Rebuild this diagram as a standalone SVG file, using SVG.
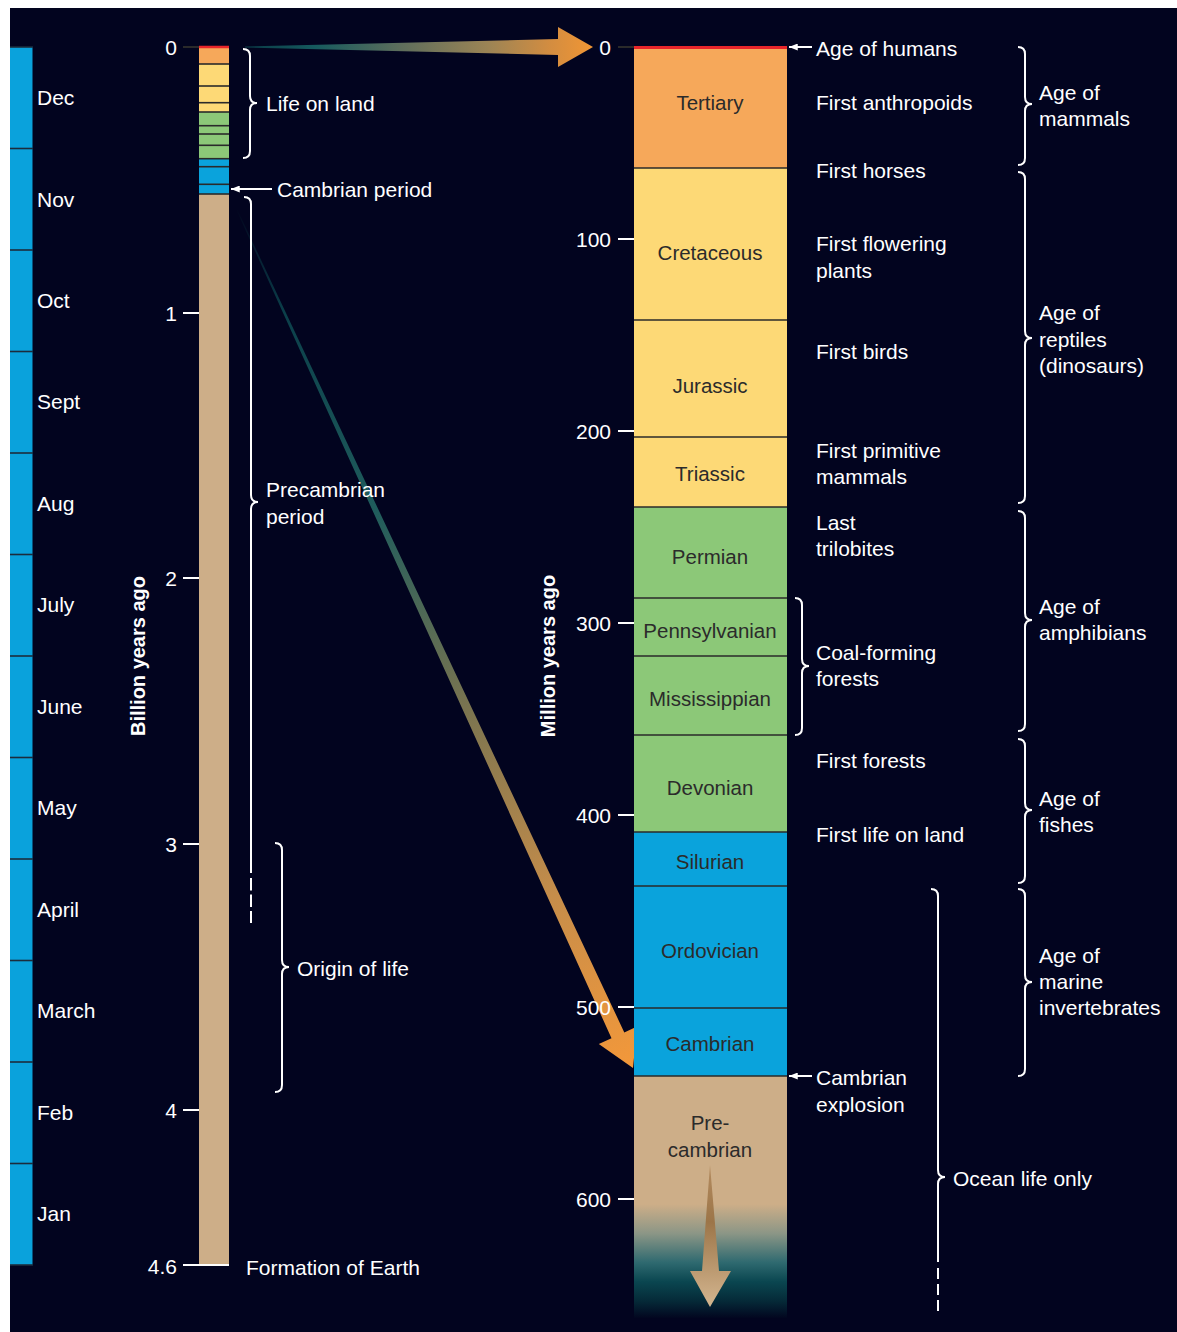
<svg xmlns="http://www.w3.org/2000/svg" width="1177" height="1332" viewBox="0 0 1177 1332">
  <style>
    text { font-family: "Liberation Sans", Arial, sans-serif; }
    .lbl { fill: #ffffff; font-size: 21px; }
    .num { fill: #ffffff; font-size: 21px; text-anchor: end; }
    .era { fill: #2b2b2b; font-size: 20.5px; text-anchor: middle; }
    .axis { fill: #ffffff; font-size: 20px; font-weight: bold; text-anchor: middle; }
    .tick { stroke: #ffffff; stroke-width: 2; }
    .tick0 { stroke: #2a2a2a; stroke-width: 2; }
    .brace { fill: none; stroke: #ffffff; stroke-width: 2; }
    .sep { stroke: #2a2a2a; stroke-width: 1.6; }
    .msep { stroke: #1c2c3c; stroke-width: 1.6; }
    .ptr { stroke: #ffffff; stroke-width: 2; marker-end: url(#head); }
  </style>
  <defs>
    <marker id="head" viewBox="0 0 10 8" refX="10" refY="4" markerWidth="9" markerHeight="7" markerUnits="userSpaceOnUse" orient="auto">
      <path d="M0,0 L10,4 L0,8 Z" fill="#ffffff"/>
    </marker>
    <linearGradient id="topArrow" gradientUnits="userSpaceOnUse" x1="245" y1="47" x2="593" y2="47">
      <stop offset="0" stop-color="#0a3a46"/>
      <stop offset="0.2" stop-color="#155a5e"/>
      <stop offset="0.45" stop-color="#5e6e5c"/>
      <stop offset="0.7" stop-color="#9c8455"/>
      <stop offset="0.88" stop-color="#d48d40"/>
      <stop offset="1" stop-color="#f19634"/>
    </linearGradient>
    <linearGradient id="diagArrow" gradientUnits="userSpaceOnUse" x1="237" y1="210" x2="633" y2="1068">
      <stop offset="0" stop-color="#02061f"/>
      <stop offset="0.12" stop-color="#0b3f4a"/>
      <stop offset="0.35" stop-color="#1f5c5c"/>
      <stop offset="0.58" stop-color="#7a7450"/>
      <stop offset="0.8" stop-color="#c68d4a"/>
      <stop offset="1" stop-color="#f3983a"/>
    </linearGradient>
    <linearGradient id="precamb" gradientUnits="userSpaceOnUse" x1="0" y1="1076" x2="0" y2="1318">
      <stop offset="0" stop-color="#cdae88"/>
      <stop offset="0.53" stop-color="#cdae88"/>
      <stop offset="0.65" stop-color="#8c9686"/>
      <stop offset="0.77" stop-color="#2f6a70"/>
      <stop offset="0.85" stop-color="#0a4650"/>
      <stop offset="0.93" stop-color="#052a38"/>
      <stop offset="1" stop-color="#02061f"/>
    </linearGradient>
    <linearGradient id="downArrow" gradientUnits="userSpaceOnUse" x1="0" y1="1165" x2="0" y2="1307">
      <stop offset="0" stop-color="#b48c60"/>
      <stop offset="0.4" stop-color="#9c7548"/>
      <stop offset="1" stop-color="#d4b690"/>
    </linearGradient>
  </defs>

  <!-- page -->
  <rect x="0" y="0" width="1177" height="1332" fill="#ffffff"/>
  <rect x="10" y="8" width="1167" height="1324" fill="#02041f"/>

  <!-- calendar bar -->
  <g id="calendar">
    <rect x="10" y="47" width="22.5" height="1218" fill="#0aa2dc"/>
    <line class="msep" x1="10" y1="47" x2="33" y2="47"/>
    <line class="msep" x1="10" y1="148.5" x2="33" y2="148.5"/>
    <line class="msep" x1="10" y1="250" x2="33" y2="250"/>
    <line class="msep" x1="10" y1="351.5" x2="33" y2="351.5"/>
    <line class="msep" x1="10" y1="453" x2="33" y2="453"/>
    <line class="msep" x1="10" y1="554.5" x2="33" y2="554.5"/>
    <line class="msep" x1="10" y1="656" x2="33" y2="656"/>
    <line class="msep" x1="10" y1="757.5" x2="33" y2="757.5"/>
    <line class="msep" x1="10" y1="859" x2="33" y2="859"/>
    <line class="msep" x1="10" y1="960.5" x2="33" y2="960.5"/>
    <line class="msep" x1="10" y1="1062" x2="33" y2="1062"/>
    <line class="msep" x1="10" y1="1163.5" x2="33" y2="1163.5"/>
    <line class="msep" x1="10" y1="1265" x2="33" y2="1265"/>
    <text class="lbl" x="37" y="105">Dec</text>
    <text class="lbl" x="37" y="207">Nov</text>
    <text class="lbl" x="37" y="308">Oct</text>
    <text class="lbl" x="37" y="409">Sept</text>
    <text class="lbl" x="37" y="511">Aug</text>
    <text class="lbl" x="37" y="612">July</text>
    <text class="lbl" x="37" y="714">June</text>
    <text class="lbl" x="37" y="815">May</text>
    <text class="lbl" x="37" y="917">April</text>
    <text class="lbl" x="37" y="1018">March</text>
    <text class="lbl" x="37" y="1120">Feb</text>
    <text class="lbl" x="37" y="1221">Jan</text>
  </g>

  <!-- connectors: zoom arrows -->
  <g id="connectors">
    <polygon points="245,46.4 558,39 558,27 593,47 558,67 558,55 245,47.6" fill="url(#topArrow)"/>
    <polygon points="237.45,209.8 624.3,1032.4 637,1026.5 633,1068 598.8,1044.1 611.5,1038.2 236.55,210.2" fill="url(#diagArrow)"/>
  </g>

  <!-- billion-year column -->
  <g id="billion-scale">
    <rect x="199" y="47" width="30" height="17" fill="#f6a85a"/>
    <rect x="199" y="64" width="30" height="48" fill="#fdd976"/>
    <rect x="199" y="112" width="30" height="47" fill="#8cc878"/>
    <rect x="199" y="159" width="30" height="35" fill="#0aa3dc"/>
    <rect x="199" y="194" width="30" height="1071" fill="#cdae88"/>
    <line x1="199" y1="47" x2="229" y2="47" stroke="#e8252a" stroke-width="2.5"/>
    <line class="sep" x1="199" y1="64" x2="229" y2="64"/>
    <line class="sep" x1="199" y1="86" x2="229" y2="86"/>
    <line class="sep" x1="199" y1="102.7" x2="229" y2="102.7"/>
    <line class="sep" x1="199" y1="112" x2="229" y2="112"/>
    <line class="sep" x1="199" y1="125.7" x2="229" y2="125.7"/>
    <line class="sep" x1="199" y1="134" x2="229" y2="134"/>
    <line class="sep" x1="199" y1="145.3" x2="229" y2="145.3"/>
    <line class="sep" x1="199" y1="158.7" x2="229" y2="158.7"/>
    <line class="sep" x1="199" y1="166.7" x2="229" y2="166.7"/>
    <line class="sep" x1="199" y1="184.3" x2="229" y2="184.3"/>
    <line class="sep" x1="199" y1="194" x2="229" y2="194"/>
    <line class="tick0" x1="183" y1="47" x2="199" y2="47"/>
    <line class="tick" x1="183" y1="313" x2="199" y2="313"/>
    <line class="tick" x1="183" y1="578" x2="199" y2="578"/>
    <line class="tick" x1="183" y1="844" x2="199" y2="844"/>
    <line class="tick" x1="183" y1="1110" x2="199" y2="1110"/>
    <line class="tick" x1="183" y1="1265" x2="229" y2="1265"/>
    <text class="num" x="177" y="55">0</text>
    <text class="num" x="177" y="321">1</text>
    <text class="num" x="177" y="586">2</text>
    <text class="num" x="177" y="852">3</text>
    <text class="num" x="177" y="1118">4</text>
    <text class="num" x="177" y="1274">4.6</text>
    <text class="axis" transform="translate(145,656) rotate(-90)">Billion years ago</text>
  </g>

  <!-- left annotations -->
  <g id="life-on-land">
    <path class="brace" d="M243 49 Q250 49 250 56 V96 Q250 103 257 103 Q250 103 250 110 V151 Q250 158 243 158"/>
    <text class="lbl" x="266" y="111">Life on land</text>
  </g>
  <g id="cambrian-period">
    <line class="ptr" x1="272" y1="189" x2="231" y2="189"/>
    <text class="lbl" x="277" y="197">Cambrian period</text>
  </g>
  <g id="precambrian-period">
    <path class="brace" d="M244 197 Q251 197 251 204 V495 Q251 502 258 502 Q251 502 251 509 V873"/>
    <line x1="251" y1="878" x2="251" y2="923" stroke="#ffffff" stroke-width="2" stroke-dasharray="12.5 4"/>
    <text class="lbl" x="266" y="497">Precambrian</text>
    <text class="lbl" x="266" y="524">period</text>
  </g>
  <g id="origin-of-life">
    <path class="brace" d="M275 843 Q282 843 282 850 V960 Q282 967 289 967 Q282 967 282 974 V1085 Q282 1092 275 1092"/>
    <text class="lbl" x="297" y="976">Origin of life</text>
  </g>
  <g id="formation-of-earth">
    <text class="lbl" x="246" y="1275">Formation of Earth</text>
  </g>

  <!-- million-year column -->
  <g id="million-scale">
    <rect x="634" y="47" width="153" height="121" fill="#f6a85a"/>
    <rect x="634" y="168" width="153" height="339" fill="#fdd976"/>
    <rect x="634" y="507" width="153" height="325" fill="#8cc878"/>
    <rect x="634" y="832" width="153" height="244" fill="#0aa3dc"/>
    <rect x="634" y="1076" width="153" height="242" fill="url(#precamb)"/>
    <line x1="634" y1="47.5" x2="787" y2="47.5" stroke="#e8252a" stroke-width="3"/>
    <line class="sep" x1="634" y1="168" x2="787" y2="168"/>
    <line class="sep" x1="634" y1="320" x2="787" y2="320"/>
    <line class="sep" x1="634" y1="437" x2="787" y2="437"/>
    <line class="sep" x1="634" y1="507" x2="787" y2="507"/>
    <line class="sep" x1="634" y1="598" x2="787" y2="598"/>
    <line class="sep" x1="634" y1="656" x2="787" y2="656"/>
    <line class="sep" x1="634" y1="735" x2="787" y2="735"/>
    <line class="sep" x1="634" y1="832" x2="787" y2="832"/>
    <line class="sep" x1="634" y1="886" x2="787" y2="886"/>
    <line class="sep" x1="634" y1="1008" x2="787" y2="1008"/>
    <line class="sep" x1="634" y1="1076" x2="787" y2="1076"/>
    <polygon points="710,1165 719,1271 731,1271 710,1307 690,1271 702,1271" fill="url(#downArrow)"/>
    <text class="era" x="710" y="110">Tertiary</text>
    <text class="era" x="710" y="260">Cretaceous</text>
    <text class="era" x="710" y="393">Jurassic</text>
    <text class="era" x="710" y="481">Triassic</text>
    <text class="era" x="710" y="564">Permian</text>
    <text class="era" x="710" y="638">Pennsylvanian</text>
    <text class="era" x="710" y="706">Mississippian</text>
    <text class="era" x="710" y="795">Devonian</text>
    <text class="era" x="710" y="869">Silurian</text>
    <text class="era" x="710" y="958">Ordovician</text>
    <text class="era" x="710" y="1051">Cambrian</text>
    <text class="era" x="710" y="1130">Pre-</text>
    <text class="era" x="710" y="1157">cambrian</text>
    <line class="tick0" x1="618" y1="47" x2="634" y2="47"/>
    <line class="tick" x1="618" y1="239" x2="634" y2="239"/>
    <line class="tick" x1="618" y1="431" x2="634" y2="431"/>
    <line class="tick" x1="618" y1="623" x2="634" y2="623"/>
    <line class="tick" x1="618" y1="815" x2="634" y2="815"/>
    <line class="tick" x1="618" y1="1007" x2="634" y2="1007"/>
    <line class="tick" x1="618" y1="1199" x2="634" y2="1199"/>
    <text class="num" x="611" y="55">0</text>
    <text class="num" x="611" y="247">100</text>
    <text class="num" x="611" y="439">200</text>
    <text class="num" x="611" y="631">300</text>
    <text class="num" x="611" y="823">400</text>
    <text class="num" x="611" y="1015">500</text>
    <text class="num" x="611" y="1207">600</text>
    <text class="axis" transform="translate(555,656) rotate(-90)">Million years ago</text>
  </g>

  <!-- events -->
  <g id="age-of-humans">
    <line class="ptr" x1="812" y1="47" x2="789" y2="47"/>
    <text class="lbl" x="816" y="56">Age of humans</text>
  </g>
  <g id="first-anthropoids"><text class="lbl" x="816" y="110">First anthropoids</text></g>
  <g id="first-horses"><text class="lbl" x="816" y="178">First horses</text></g>
  <g id="first-flowering-plants">
    <text class="lbl" x="816" y="251">First flowering</text>
    <text class="lbl" x="816" y="278">plants</text>
  </g>
  <g id="first-birds"><text class="lbl" x="816" y="359">First birds</text></g>
  <g id="first-primitive-mammals">
    <text class="lbl" x="816" y="458">First primitive</text>
    <text class="lbl" x="816" y="484">mammals</text>
  </g>
  <g id="last-trilobites">
    <text class="lbl" x="816" y="530">Last</text>
    <text class="lbl" x="816" y="556">trilobites</text>
  </g>
  <g id="coal-forming-forests">
    <path class="brace" d="M795 598 Q802 598 802 605 V659 Q802 666 809 666 Q802 666 802 673 V728 Q802 735 795 735"/>
    <text class="lbl" x="816" y="660">Coal-forming</text>
    <text class="lbl" x="816" y="686">forests</text>
  </g>
  <g id="first-forests"><text class="lbl" x="816" y="768">First forests</text></g>
  <g id="first-life-on-land"><text class="lbl" x="816" y="842">First life on land</text></g>
  <g id="cambrian-explosion">
    <line class="ptr" x1="812" y1="1076" x2="789" y2="1076"/>
    <text class="lbl" x="816" y="1085">Cambrian</text>
    <text class="lbl" x="816" y="1112">explosion</text>
  </g>
  <g id="ocean-life-only">
    <path class="brace" d="M931 889 Q938 889 938 896 V1170 Q938 1177 945 1177 Q938 1177 938 1184 V1262"/>
    <line x1="938" y1="1268" x2="938" y2="1312" stroke="#ffffff" stroke-width="2" stroke-dasharray="11 5"/>
    <text class="lbl" x="953" y="1186">Ocean life only</text>
  </g>

  <!-- ages -->
  <g id="age-of-mammals">
    <path class="brace" d="M1018 47 Q1025 47 1025 54 V97 Q1025 104 1032 104 Q1025 104 1025 111 V158 Q1025 165 1018 165"/>
    <text class="lbl" x="1039" y="100">Age of</text>
    <text class="lbl" x="1039" y="126">mammals</text>
  </g>
  <g id="age-of-reptiles">
    <path class="brace" d="M1018 172 Q1025 172 1025 179 V331 Q1025 338 1032 338 Q1025 338 1025 345 V496 Q1025 503 1018 503"/>
    <text class="lbl" x="1039" y="320">Age of</text>
    <text class="lbl" x="1039" y="347">reptiles</text>
    <text class="lbl" x="1039" y="373">(dinosaurs)</text>
  </g>
  <g id="age-of-amphibians">
    <path class="brace" d="M1018 511 Q1025 511 1025 518 V613 Q1025 620 1032 620 Q1025 620 1025 627 V724 Q1025 731 1018 731"/>
    <text class="lbl" x="1039" y="614">Age of</text>
    <text class="lbl" x="1039" y="640">amphibians</text>
  </g>
  <g id="age-of-fishes">
    <path class="brace" d="M1018 739 Q1025 739 1025 746 V803 Q1025 810 1032 810 Q1025 810 1025 817 V876 Q1025 883 1018 883"/>
    <text class="lbl" x="1039" y="806">Age of</text>
    <text class="lbl" x="1039" y="832">fishes</text>
  </g>
  <g id="age-of-marine-invertebrates">
    <path class="brace" d="M1018 889 Q1025 889 1025 896 V975 Q1025 982 1032 982 Q1025 982 1025 989 V1069 Q1025 1076 1018 1076"/>
    <text class="lbl" x="1039" y="963">Age of</text>
    <text class="lbl" x="1039" y="989">marine</text>
    <text class="lbl" x="1039" y="1015">invertebrates</text>
  </g>
</svg>
